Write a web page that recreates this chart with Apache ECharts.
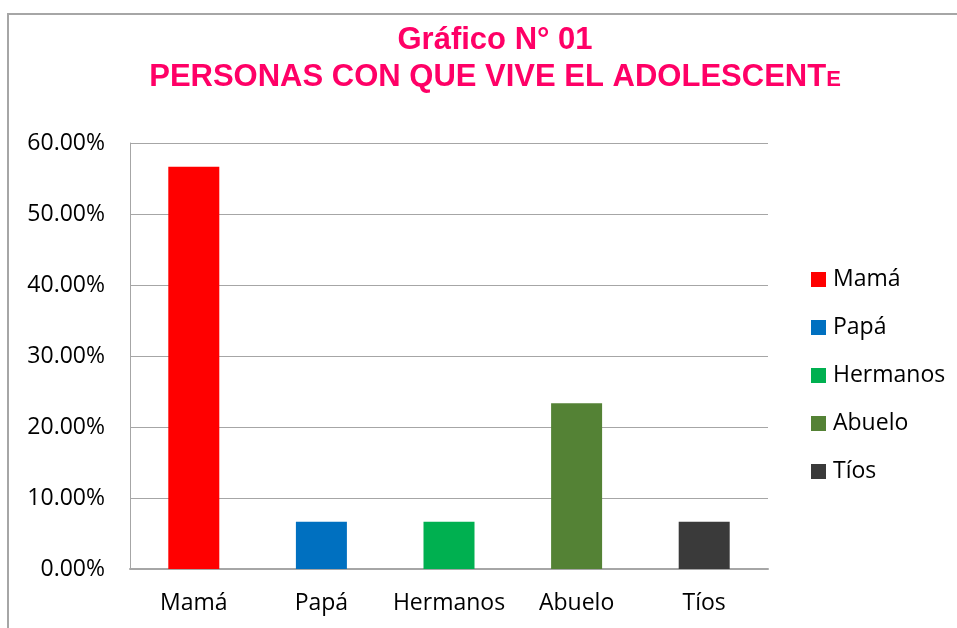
<!DOCTYPE html>
<html>
<head>
<meta charset="utf-8">
<script src="https://cdn.jsdelivr.net/npm/echarts@6/dist/echarts.min.js"></script>
<style>
  html, body { margin: 0; padding: 0; background: #fff; }
  #chart { width: 957px; height: 628px; }
</style>
</head>
<body>
<div id="chart"></div>
<script>
// datos del gráfico
const categorias = ['Mamá', 'Papá', 'Hermanos', 'Abuelo', 'Tíos']
const porcentajes = [56.67, 6.67, 6.67, 23.33, 6.67]
const colores = ['#ff0000', '#0070c0', '#00b050', '#548235', '#3a3a3a']
const ticksY = [0, 10, 20, 30, 40, 50, 60]

const chart = echarts.init(document.getElementById('chart'))

// una serie por categoría para que la leyenda muestre cada una
const series = categorias.map((nombre, i) => ({
  name: nombre,
  type: 'bar',
  stack: 'total',
  barWidth: 51,
  itemStyle: { color: colores[i] },
  data: categorias.map((c, j) => (j === i ? porcentajes[i] : null))
}))

const option = {
  animation: false,
  backgroundColor: '#fff',
  graphic: [{
    type: 'rect',
    shape: { x: 8, y: 14, width: 1200, height: 900 },
    style: { fill: 'none', stroke: '#a6a6a6', lineWidth: 2 },
    silent: true
  }],
  title: {
    left: 490,
    textAlign: 'center',
    top: 17,
    text: '{a|Gráfico N° 01}\n{a|PERSONAS CON QUE VIVE EL ADOLESCENT}{b|E}',
    textStyle: {
      rich: {
        a: { fontFamily: 'Liberation Sans', fontWeight: 'bold', fontSize: 31, color: '#ff0066', lineHeight: 37, align: 'center' },
        b: { fontFamily: 'Liberation Sans', fontWeight: 'bold', fontSize: 22, color: '#ff0066', lineHeight: 37, verticalAlign: 'middle', padding: [5, 0, 0, 0] }
      }
    }
  },
  legend: {
    orient: 'vertical',
    left: 806,
    top: 263,
    itemWidth: 15,
    itemHeight: 15,
    itemGap: 25,
    icon: 'rect',
    data: categorias,
    textStyle: { fontFamily: 'Open Sans', fontSize: 23, color: '#000', padding: [0, 0, 0, 2] }
  },
  grid: { left: 130, top: 143, right: 189, bottom: 59, containLabel: false },
  xAxis: {
    type: 'category',
    data: categorias,
    axisLine: { lineStyle: { color: '#a6a6a6', width: 2 } },
    axisTick: { show: false },
    axisLabel: { fontFamily: 'Open Sans', fontSize: 23, color: '#000', margin: 23, interval: 0 }
  },
  yAxis: {
    type: 'value',
    min: ticksY[0],
    max: ticksY[ticksY.length - 1],
    interval: 10,
    axisLine: { show: true, lineStyle: { color: '#a6a6a6', width: 1 } },
    axisTick: { show: false },
    splitLine: { lineStyle: { color: '#a6a6a6', width: 1 } },
    axisLabel: {
      fontFamily: 'Open Sans',
      fontSize: 23,
      color: '#000',
      margin: 25,
      formatter: v => v.toFixed(2) + '%'
    }
  },
  series: series
}

chart.setOption(option)
</script>
</body>
</html>
